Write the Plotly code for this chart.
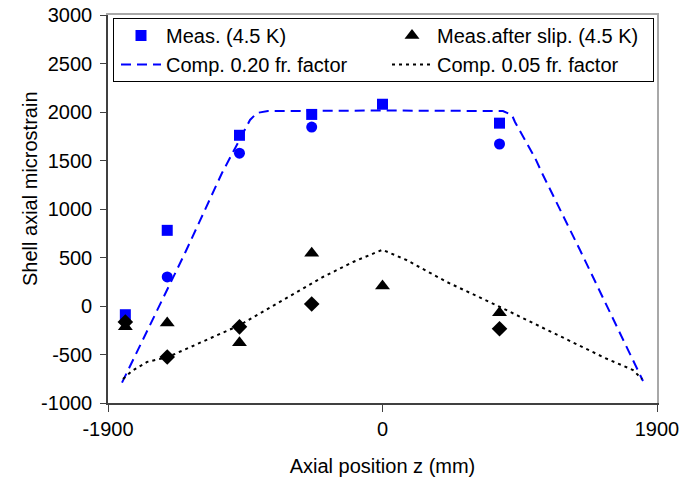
import plotly.graph_objects as go

# Measurement positions (mm)
z_meas = [-1780, -1490, -990, -490, 0, 810]
meas_sq = [-90, 780, 1760, 1975, 2080, 1885]          # Meas. (4.5 K) squares
z_circ = [-1490, -990, -490, 810]
meas_circ = [300, 1575, 1845, 1670]                    # circles (no legend)
slip_tri = [-215, -175, -380, 545, 205, -70]           # Meas.after slip (4.5 K)
z_dia = [-1780, -1490, -990, -490, 810]
slip_dia = [-165, -525, -215, 20, -235]                # diamonds (no legend)

# Computed curves
z_c20 = [-1803, -1367, -1111, -1056, -917, -869, -793, 0, 834, 896, 917, 1056, 1104, 1367, 1803]
v_c20 = [-790, 546, 1371, 1526, 1918, 1990, 2010, 2015, 2010, 1969, 1897, 1526, 1371, 577, -773]
z_c05 = [-1796, -1734, -1630, -1485, -986, -481, -412, -204, 0, 166, 446, 813, 1540, 1734, 1796]
v_c05 = [-753, -670, -577, -526, -196, 237, 299, 454, 580, 474, 247, -10, -536, -660, -753]

x_ticks = [-1900, 0, 1900]
y_ticks = [-1000, -500, 0, 500, 1000, 1500, 2000, 2500, 3000]
X_RANGE = [-1900, 1900]
Y_RANGE = [-1000, 3000]

FONT = "Liberation Sans, Arial, sans-serif"
BLUE = "#0000FF"
FRAME = "#a8a8a8"

fig = go.Figure()
fig.add_trace(go.Scatter(x=z_meas, y=meas_sq, mode="markers", name="Meas. (4.5 K)",
                         marker=dict(symbol="square", size=11, color=BLUE)))
fig.add_trace(go.Scatter(x=z_meas, y=slip_tri, mode="markers", name="Meas.after slip. (4.5 K)",
                         marker=dict(symbol="triangle-up", size=13, color="black")))
fig.add_trace(go.Scatter(x=z_c20, y=v_c20, mode="lines", name="Comp. 0.20 fr. factor",
                         line=dict(color=BLUE, width=2, dash="10px,6px")))
fig.add_trace(go.Scatter(x=z_c05, y=v_c05, mode="lines", name="Comp. 0.05 fr. factor",
                         line=dict(color="black", width=2, dash="3px,4px")))
fig.add_trace(go.Scatter(x=z_dia, y=slip_dia, mode="markers", showlegend=False,
                         marker=dict(symbol="diamond", size=12, color="black")))
# circles drawn on the overlaid (top/right) axes, which also form the gray frame
fig.add_trace(go.Scatter(x=z_circ, y=meas_circ, mode="markers", showlegend=False,
                         xaxis="x2", yaxis="y2",
                         marker=dict(symbol="circle", size=11, color=BLUE)))

L, R, T, B = 108, 24, 15, 78
W, H = 681, 481
pw, ph = W - L - R, H - T - B

def px(xp):
    return (xp - L) / pw

def py(yp):
    return (H - B - yp) / ph

fig.update_layout(
    width=W, height=H,
    margin=dict(l=L, r=R, t=T, b=B),
    paper_bgcolor="white", plot_bgcolor="white",
    font=dict(family=FONT, size=20, color="black"),
    legend=dict(orientation="h", x=px(116), y=py(16), xanchor="left", yanchor="top",
                bgcolor="rgba(0,0,0,0)", borderwidth=0,
                itemwidth=40, entrywidth=216, entrywidthmode="pixels",
                font=dict(family=FONT, size=20, color="black")),
    xaxis=dict(range=X_RANGE, tickvals=x_ticks, ticktext=[str(v) for v in x_ticks],
               ticks="outside", ticklen=7, tickcolor="#404040", showline=True,
               linecolor="#404040", linewidth=1.5, showgrid=False, zeroline=False,
               automargin=False,
               title=dict(text="Axial position z (mm)", standoff=20,
                          font=dict(family=FONT, size=20, color="black"))),
    yaxis=dict(range=Y_RANGE, tickvals=y_ticks,
               ticktext=[str(v) + "\u2009" for v in y_ticks],
               ticks="outside", ticklen=6, tickcolor="#404040", showline=True,
               linecolor="#404040", linewidth=1.5, showgrid=False, zeroline=False,
               automargin=False),
    xaxis2=dict(overlaying="x", side="top", anchor="y2", range=X_RANGE, showline=True,
                linecolor=FRAME, linewidth=1.5, showgrid=False, zeroline=False,
                showticklabels=False, ticks="", automargin=False),
    yaxis2=dict(overlaying="y", side="right", anchor="x2", range=Y_RANGE, showline=True,
                linecolor=FRAME, linewidth=1.5, showgrid=False, zeroline=False,
                showticklabels=False, ticks="", automargin=False),
    annotations=[
        dict(text="Shell axial microstrain", xref="paper", yref="paper",
             x=px(30), y=py(189), xanchor="center", yanchor="middle",
             textangle=-90, showarrow=False,
             font=dict(family=FONT, size=20, color="black")),
        # legend frame
        dict(text=" ", xref="paper", yref="paper",
             x=px(113), y=py(18), xanchor="left", yanchor="top",
             width=539, height=62, showarrow=False,
             bordercolor="black", borderwidth=1, borderpad=0,
             bgcolor="rgba(0,0,0,0)",
             font=dict(family=FONT, size=20, color="black")),
    ],
)

fig.write_html("out.html")
